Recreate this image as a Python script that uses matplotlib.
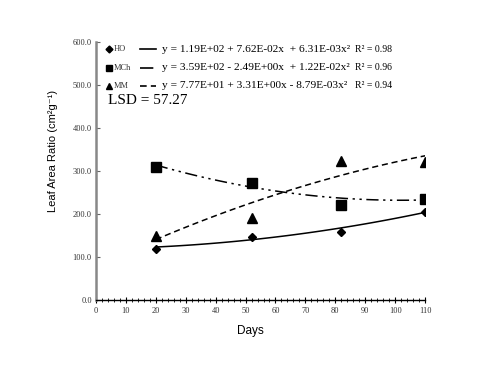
import numpy as np
import matplotlib
matplotlib.use('Agg')
import matplotlib.pyplot as plt
from matplotlib.ticker import MultipleLocator

# observed values
days = [20, 52, 82, 110]
ho = [119, 146, 159, 205]
mch = [309, 273, 222, 234]
mm = [149, 191, 324, 322]

# quadratic fit coefficients (a, b, c) from the legend
ho_fit = [1.19e2, 7.62e-2, 6.31e-3]
mch_fit = [3.59e2, -2.49e0, 1.22e-2]
mm_fit = [7.77e1, 3.31e0, -8.79e-3]

names = ['HO', 'MCh', 'MM']
markers = ['D', 's', '^']
styles = ['-', (0, (8, 3, 1.5, 3, 1.5, 3)), (0, (4, 2.5))]
equations = ['y = 1.19E+02 + 7.62E-02x  + 6.31E-03x²',
             'y = 3.59E+02 - 2.49E+00x  + 1.22E-02x²',
             'y = 7.77E+01 + 3.31E+00x - 8.79E-03x²']
r2 = ['0.98', '0.96', '0.94']
lsd = 57.27

serif = ['Liberation Serif', 'DejaVu Serif']
narrow = ['Liberation Sans Narrow', 'Liberation Sans', 'DejaVu Sans']

fig = plt.figure(figsize=(4.82, 3.83), dpi=100)
ax = fig.add_axes([0.199, 0.217, 0.683, 0.673])

series = [ho, mch, mm]
fits = [ho_fit, mch_fit, mm_fit]
xs = np.linspace(days[0], days[-1], 100)
for vals, fit, mk, ls in zip(series, fits, markers, styles):
    ms = 4.5 if mk == 'D' else 6.5
    ax.plot(days, vals, linestyle='none', marker=mk, color='black', markersize=ms)
    ax.plot(xs, fit[0] + fit[1] * xs + fit[2] * xs ** 2, color='black',
            linestyle=ls, linewidth=1.1)

ax.set_xlim(0, 110)
ax.set_ylim(0, 600)
ax.xaxis.set_major_locator(MultipleLocator(10))
ax.xaxis.set_minor_locator(MultipleLocator(2))
ax.yaxis.set_major_locator(MultipleLocator(100))
ax.spines['top'].set_visible(False)
ax.spines['right'].set_visible(False)
ax.spines['left'].set_color('#888888')
ax.spines['left'].set_linewidth(1.8)
ax.spines['bottom'].set_linewidth(1.0)
ax.tick_params(axis='x', which='major', direction='inout', length=4, width=0.8, labelsize=6, pad=3)
ax.tick_params(axis='x', which='minor', direction='inout', length=2.5, width=0.6)
ax.tick_params(axis='y', direction='in', length=3, width=0.8, labelsize=6, pad=3, color='#666666')
ax.set_yticklabels(['%.1f' % v for v in ax.get_yticks()])
for lbl in ax.get_xticklabels() + ax.get_yticklabels():
    lbl.set_family(serif)
    lbl.set_color('#333333')

fig.text(0.11, 0.605, 'Leaf Area Ratio (cm²g⁻¹)', rotation=90, ha='center',
         va='center', fontsize=8, family=narrow)
fig.text(0.52, 0.135, 'Days', ha='center', va='center', fontsize=8.5, family=narrow)

# legend block drawn by hand in figure pixels
W, H = 482.0, 383.0
rows_y = [49, 67.5, 85.5]
for name, mk, ls, eq, r, yy in zip(names, markers, styles, equations, r2, rows_y):
    fy = 1 - yy / H
    ms = 3.5 if mk == 'D' else 5
    fig.add_artist(plt.Line2D([109 / W], [fy], marker=mk, color='black', markersize=ms,
                              linestyle='none'))
    fig.text(114 / W, fy, name, fontsize=6, family=serif, va='center', color='#333333')
    fig.add_artist(plt.Line2D([140 / W, 156 / W], [fy, fy], color='black', linestyle=ls,
                              linewidth=1.2))
    fig.text(162 / W, fy, eq, fontsize=8.2, family=serif, va='center')
    fig.text(355 / W, fy, 'R² = ' + r, fontsize=7, family=serif, va='center')

fig.text(108 / W, 1 - 101 / H, 'LSD = %.2f' % lsd, fontsize=11, family=serif, va='center')

fig.savefig('out.png', dpi=100)
